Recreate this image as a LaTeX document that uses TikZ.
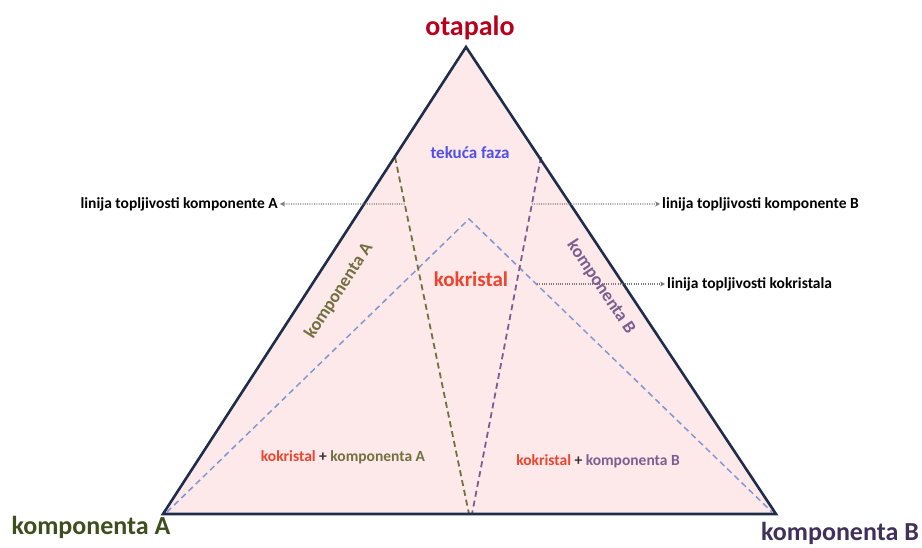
\documentclass[tikz,border=0pt]{standalone}
\usepackage{fontspec}
\setmainfont{Carlito}
\usetikzlibrary{arrows.meta}
\definecolor{edgecol}{HTML}{1F2D4A}
\definecolor{fillcol}{HTML}{FDE9E9}
\definecolor{solvcol}{HTML}{B8001C}
\definecolor{compAdark}{HTML}{3D4F1E}
\definecolor{compBdark}{HTML}{41305A}
\definecolor{compAcol}{HTML}{737040}
\definecolor{compBcol}{HTML}{7A5F90}
\definecolor{liqcol}{HTML}{5050E8}
\definecolor{cocol}{HTML}{F0432D}
\definecolor{bluedash}{HTML}{8098D0}
\definecolor{dotcol}{HTML}{7A7A7A}
\tikzset{
  dashA/.style={draw=compAcol, line width=1.8pt, dash pattern=on 6pt off 4pt},
  dashB/.style={draw=compBcol, line width=1.8pt, dash pattern=on 6pt off 4pt},
  dashC/.style={draw=bluedash, line width=1.5pt, dash pattern=on 6pt off 4pt},
  dotarrow/.style={draw=dotcol, line width=1.2pt, dash pattern=on 1pt off 1.3pt, -{Stealth[length=5pt,width=5pt]}},
  lbl/.style={font=\bfseries\fontsize{15.5}{18}\selectfont, text=black, inner sep=0pt},
}
\begin{document}
\begin{tikzpicture}[x=1pt,y=1pt]
\useasboundingbox (0,0) rectangle (922,548);
\coordinate (T) at (466,501);
\coordinate (L) at (163,34);
\coordinate (R) at (776,34);
\coordinate (P) at (469,329);
\coordinate (Lb) at (167,36);
\coordinate (Rb) at (772,36);
\coordinate (Va) at (469,34);
\coordinate (Vb) at (472,34);
\coordinate (Ta) at (395,391);
\coordinate (Tb) at (541,391);
% triangle fill
\fill[fillcol] (T) -- (L) -- (R) -- cycle;
% phase lines
\draw[dashC] (Lb) -- (P) -- (Rb);
\draw[dashA] (Ta) -- (Va);
\draw[dashB] (Tb) -- (Vb);
% triangle border
\draw[edgecol, line width=2.6pt, line join=miter] (T) -- (L) -- (R) -- cycle;
% points for arrows
\path (Ta) -- (Va) coordinate[pos=0.1317] (a1);
\path (Tb) -- (Vb) coordinate[pos=0.1317] (b1);
\path (P) -- (Rb) coordinate[pos=0.225] (c1);
% labels
\node[lbl, anchor=base east] (labA) at (278,339) {linija topljivosti komponente A};
\node[lbl, anchor=base west] (labB) at (662,339) {linija topljivosti komponente B};
\node[lbl, anchor=base west] (labC) at (667,259) {linija topljivosti kokristala};
\coordinate (labAe) at (280,344);
\coordinate (labBw) at (660,344);
\coordinate (labCw) at (665,264);
\draw[dotarrow] (a1) -- (labAe);
\draw[dotarrow] (b1) -- (labBw);
\draw[dotarrow] (c1 |- labCw) -- (labCw);
% vertex labels
\node[font=\bfseries\fontsize{28}{32}\selectfont, text=solvcol, anchor=base, inner sep=0pt] (otap) at (470,512) {otapalo};
\node[font=\bfseries\fontsize{26}{30}\selectfont, text=compAdark, anchor=base, inner sep=0pt] (kA) at (91,13) {komponenta A};
\node[font=\bfseries\fontsize{26}{30}\selectfont, text=compBdark, anchor=base, inner sep=0pt] (kB) at (840,7) {komponenta B};
% region labels
\node[font=\bfseries\fontsize{17}{20}\selectfont, text=liqcol, anchor=base, inner sep=0pt] (liq) at (470,389) {tekuća faza};
\node[font=\bfseries\fontsize{21}{24}\selectfont, text=cocol, anchor=base, inner sep=0pt] (kok) at (471,261) {kokristal};
\node[font=\bfseries\fontsize{18}{21}\selectfont, text=compAcol, rotate=57, inner sep=0pt] (sideA) at (339,257) {komponenta A};
\node[font=\bfseries\fontsize{18}{21}\selectfont, text=compBcol, rotate=-56.4, inner sep=0pt] (sideB) at (601,261) {komponenta B};
\node[font=\bfseries\fontsize{15.5}{18}\selectfont, anchor=base, inner sep=0pt] (mixA) at (343,86) {\textcolor{cocol}{kokristal} \textcolor{black!80}{+} \textcolor{compAcol}{komponenta A}};
\node[font=\bfseries\fontsize{15.5}{18}\selectfont, anchor=base, inner sep=0pt] (mixB) at (598,82) {\textcolor{cocol}{kokristal} \textcolor{black!80}{+} \textcolor{compBcol}{komponenta B}};
\end{tikzpicture}
\end{document}
